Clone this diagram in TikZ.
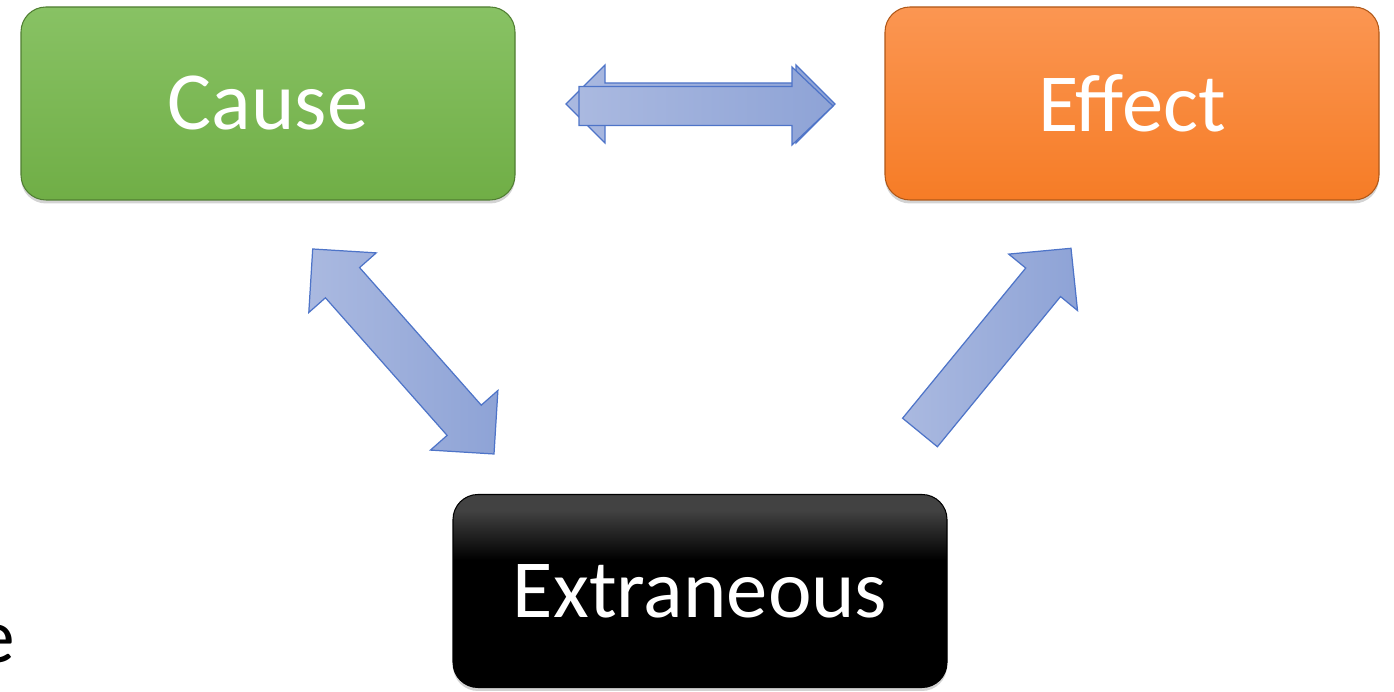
\documentclass[tikz,border=0pt]{standalone}
\usepackage{fontspec}
\setmainfont{Carlito}
\usetikzlibrary{calc, shadows}
\definecolor{causetop}{RGB}{136,194,100}
\definecolor{causebot}{RGB}{112,174,70}
\definecolor{causeedge}{RGB}{80,126,50}
\definecolor{efftop}{RGB}{251,150,82}
\definecolor{effbot}{RGB}{246,124,38}
\definecolor{effedge}{RGB}{176,88,24}
\definecolor{arrowlight}{RGB}{170,185,224}
\definecolor{arrowdark}{RGB}{142,163,214}
\definecolor{arrowedge}{RGB}{78,116,200}
% mostly black, with a grey sheen along the top
\pgfdeclareverticalshading{extshade}{100bp}{color(0bp)=(black); color(25bp)=(black);
  color(58bp)=(black); color(71bp)=(black!74); color(75bp)=(black!74); color(100bp)=(black!74)}
\tikzset{
  box/.style      = {rounded corners=0.5cm, minimum width=9.88cm, minimum height=3.86cm,
                     text=white, font=\fontsize{47}{56}\selectfont, line width=0.6pt,
                     drop shadow={opacity=0.35, shadow xshift=0pt, shadow yshift=-0.07cm}},
  causebox/.style = {box, draw=causeedge, top color=causetop, bottom color=causebot},
  effbox/.style   = {box, draw=effedge, top color=efftop, bottom color=effbot},
  extbox/.style   = {box, draw=black, shading=extshade},
  barrow/.style   = {draw=arrowedge, line width=0.7pt, left color=arrowlight,
                     right color=arrowdark, line join=miter},
}
% block arrow: tail, tip, shaft half width, head half width, head length
\newcommand{\onehead}[5]{%
  \draw[barrow] let \p1=($(#2)-(#1)$), \n1={atan2(\y1,\x1)} in
    ($(#1)+(\n1+90:#3)$) -- ($(#2)+(\n1+180:#5)+(\n1+90:#3)$)
    -- ($(#2)+(\n1+180:#5)+(\n1+90:#4)$) -- (#2)
    -- ($(#2)+(\n1+180:#5)+(\n1-90:#4)$) -- ($(#2)+(\n1+180:#5)+(\n1-90:#3)$)
    -- ($(#1)+(\n1-90:#3)$) -- cycle;}
% block arrow with a head at both ends
\newcommand{\twohead}[5]{%
  \draw[barrow] let \p1=($(#2)-(#1)$), \n1={atan2(\y1,\x1)} in
    (#1) -- ($(#1)+(\n1:#5)+(\n1+90:#4)$) -- ($(#1)+(\n1:#5)+(\n1+90:#3)$)
    -- ($(#2)+(\n1+180:#5)+(\n1+90:#3)$) -- ($(#2)+(\n1+180:#5)+(\n1+90:#4)$)
    -- (#2)
    -- ($(#2)+(\n1+180:#5)+(\n1-90:#4)$) -- ($(#2)+(\n1+180:#5)+(\n1-90:#3)$)
    -- ($(#1)+(\n1:#5)+(\n1-90:#3)$) -- ($(#1)+(\n1:#5)+(\n1-90:#4)$) -- cycle;}

\begin{document}
\begin{tikzpicture}
  \useasboundingbox (0,0) rectangle (27.88,13.84);
  % the three boxes
  \node[causebox] (cause) at (5.36, 11.77) {Cause};
  \node[effbox]   (effect) at (22.64, 11.77) {Effect};
  \node[extbox]   (extra) at (14.0, 2.02) {Extraneous};
  % cut-off text at the left edge
  \node[anchor=base east, inner sep=0pt, font=\fontsize{44}{52}\selectfont] (edge) at (0.30, 0.58) {e};
  % arrow ends
  \coordinate (ce1) at (11.32, 11.76);
  \coordinate (ce2) at (16.70, 11.76);
  \coordinate (ce3) at (11.58, 11.72);
  \coordinate (ce4) at (16.66, 11.72);
  \coordinate (cx1) at (6.254, 8.86);
  \coordinate (cx2) at (9.88, 4.76);
  \coordinate (xe1) at (18.40, 5.19);
  \coordinate (xe2) at (21.42, 8.874);
  % cause <-> effect
  \twohead{ce1}{ce2}{0.42cm}{0.78cm}{0.78cm}
  \onehead{ce3}{ce4}{0.39cm}{0.78cm}{0.82cm}
  % cause <-> extraneous
  \twohead{cx1}{cx2}{0.456cm}{0.9cm}{0.9cm}
  % extraneous -> effect
  \onehead{xe1}{xe2}{0.45cm}{0.89cm}{0.88cm}
\end{tikzpicture}
\end{document}
